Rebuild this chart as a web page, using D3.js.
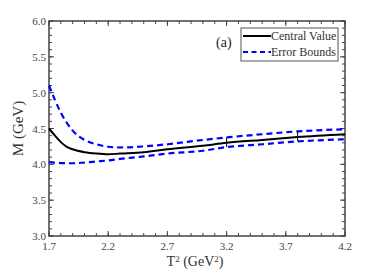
<!DOCTYPE html>
<html>
<head>
<meta charset="utf-8">
<script src="https://cdn.jsdelivr.net/npm/d3@7"></script>
<style>
body { margin: 0; background: #fff; }
svg { font-family: "Liberation Serif", "DejaVu Serif", serif; }
</style>
</head>
<body>
<div id="chart"></div>
<script>
// T^2 values (GeV^2)
var tSquared = [1.7, 1.75, 1.8, 1.85, 1.9, 2.0, 2.1, 2.2, 2.3, 2.5, 2.7, 3.0, 3.2, 3.5, 3.8, 4.2];
var central  = [4.50, 4.40, 4.31, 4.245, 4.21, 4.17, 4.15, 4.14, 4.15, 4.17, 4.21, 4.26, 4.30, 4.34, 4.38, 4.42];
var upper    = [5.10, 4.90, 4.72, 4.58, 4.47, 4.34, 4.28, 4.245, 4.235, 4.25, 4.28, 4.34, 4.375, 4.42, 4.46, 4.49];
var lower    = [4.03, 4.022, 4.018, 4.016, 4.015, 4.025, 4.04, 4.055, 4.075, 4.11, 4.15, 4.19, 4.24, 4.28, 4.32, 4.35];
var windowMarks = [3.2, 3.8];
var xTicks = [1.7, 2.2, 2.7, 3.2, 3.7, 4.2];
var yTicks = [3.0, 3.5, 4.0, 4.5, 5.0, 5.5, 6.0];

var width = 382, height = 273;
var margin = { left: 49, right: 37, top: 21, bottom: 37 };

var svg = d3.select('#chart').append('svg')
    .attr('width', width)
    .attr('height', height);

var x = d3.scaleLinear().domain([1.7, 4.2]).range([margin.left, width - margin.right]);
var y = d3.scaleLinear().domain([3.0, 6.0]).range([height - margin.bottom, margin.top]);

var axisColor = '#444';

// minor + major ticks, pointing inward on all four sides
var xMinor = d3.range(17, 43).map(function(d) { return d / 10; });
var yMinor = d3.range(30, 61).map(function(d) { return d / 10; });

function tickLines(vals, len, side) {
    svg.append('g').selectAll('line').data(vals).enter().append('line')
        .attr('x1', function(d) { return side == 'b' || side == 't' ? x(d) : (side == 'l' ? x.range()[0] : x.range()[1]); })
        .attr('x2', function(d) { return side == 'b' || side == 't' ? x(d) : (side == 'l' ? x.range()[0] + len : x.range()[1] - len); })
        .attr('y1', function(d) { return side == 'l' || side == 'r' ? y(d) : (side == 'b' ? y.range()[0] : y.range()[1]); })
        .attr('y2', function(d) { return side == 'l' || side == 'r' ? y(d) : (side == 'b' ? y.range()[0] - len : y.range()[1] + len); })
        .style('stroke', axisColor)
        .style('stroke-width', 1);
}
['b', 't'].forEach(function(s) { tickLines(xMinor, 3, s); tickLines(xTicks, 5, s); });
['l', 'r'].forEach(function(s) { tickLines(yMinor, 3, s); tickLines(yTicks, 5, s); });

svg.append('rect')
    .attr('x', x.range()[0]).attr('y', y.range()[1])
    .attr('width', x.range()[1] - x.range()[0])
    .attr('height', y.range()[0] - y.range()[1])
    .style('fill', 'none')
    .style('stroke', axisColor)
    .style('stroke-width', 1.5);

// tick labels
svg.append('g').selectAll('text').data(xTicks).enter().append('text')
    .attr('x', function(d) { return x(d); })
    .attr('y', y.range()[0] + 14)
    .attr('text-anchor', 'middle')
    .style('font-size', '11px').style('fill', '#444')
    .text(function(d) { return d.toFixed(1); });

svg.append('g').selectAll('text').data(yTicks).enter().append('text')
    .attr('x', x.range()[0] - 3)
    .attr('y', function(d) { return y(d) + 4; })
    .attr('text-anchor', 'end')
    .style('font-size', '11px').style('fill', '#444')
    .text(function(d) { return d.toFixed(1); });

// axis titles
var xt = svg.append('text')
    .attr('x', (x.range()[0] + x.range()[1]) / 2 - 2)
    .attr('y', 266)
    .attr('text-anchor', 'middle')
    .style('font-size', '14px').style('fill', '#333');
xt.append('tspan').text('T');
xt.append('tspan').attr('dy', -4).style('font-size', '9px').text('2');
xt.append('tspan').attr('dy', 4).text(' (GeV');
xt.append('tspan').attr('dy', -4).style('font-size', '9px').text('2');
xt.append('tspan').attr('dy', 4).text(')');

svg.append('text')
    .attr('transform', 'translate(23,' + ((y.range()[0] + y.range()[1]) / 2) + ') rotate(-90)')
    .attr('text-anchor', 'middle')
    .style('font-size', '15px').style('fill', '#333')
    .text('M (GeV)');

// curves
function lineFor(vals) {
    return d3.line()
        .x(function(d, i) { return x(tSquared[i]); })
        .y(function(d) { return y(d); })
        .curve(d3.curveMonotoneX)(vals);
}

[upper, lower].forEach(function(vals) {
    svg.append('path')
        .attr('d', lineFor(vals))
        .style('fill', 'none')
        .style('stroke', '#0000ff')
        .style('stroke-width', 2.2)
        .style('stroke-dasharray', '6,4');
});

svg.append('path')
    .attr('d', lineFor(central))
    .style('fill', 'none')
    .style('stroke', '#000')
    .style('stroke-width', 2);

// Borel window markers
var upAt = d3.scaleLinear().domain(tSquared).range(upper);
var loAt = d3.scaleLinear().domain(tSquared).range(lower);
svg.append('g').selectAll('line').data(windowMarks).enter().append('line')
    .attr('x1', function(d) { return x(d); })
    .attr('x2', function(d) { return x(d); })
    .attr('y1', function(d) { return y(upAt(d)); })
    .attr('y2', function(d) { return y(loAt(d)); })
    .style('stroke', '#000')
    .style('stroke-width', 1);

// panel label
svg.append('text')
    .attr('x', 216).attr('y', 47)
    .style('font-size', '14px').style('fill', '#222')
    .text('(a)');

// legend
var lg = svg.append('g');
lg.append('rect')
    .attr('x', 241).attr('y', 28)
    .attr('width', 97).attr('height', 33)
    .style('fill', '#fff')
    .style('stroke', '#555')
    .style('stroke-width', 1);
lg.append('line')
    .attr('x1', 243).attr('x2', 271).attr('y1', 36).attr('y2', 36)
    .style('stroke', '#000').style('stroke-width', 2);
lg.append('line')
    .attr('x1', 243).attr('x2', 271).attr('y1', 52).attr('y2', 52)
    .style('stroke', '#0000ff').style('stroke-width', 2.2)
    .style('stroke-dasharray', '5,3.5');
lg.append('text').attr('x', 271).attr('y', 40)
    .style('font-size', '12px').style('fill', '#333').text('Central Value');
lg.append('text').attr('x', 271).attr('y', 56)
    .style('font-size', '12px').style('fill', '#333').text('Error Bounds');
</script>
</body>
</html>
